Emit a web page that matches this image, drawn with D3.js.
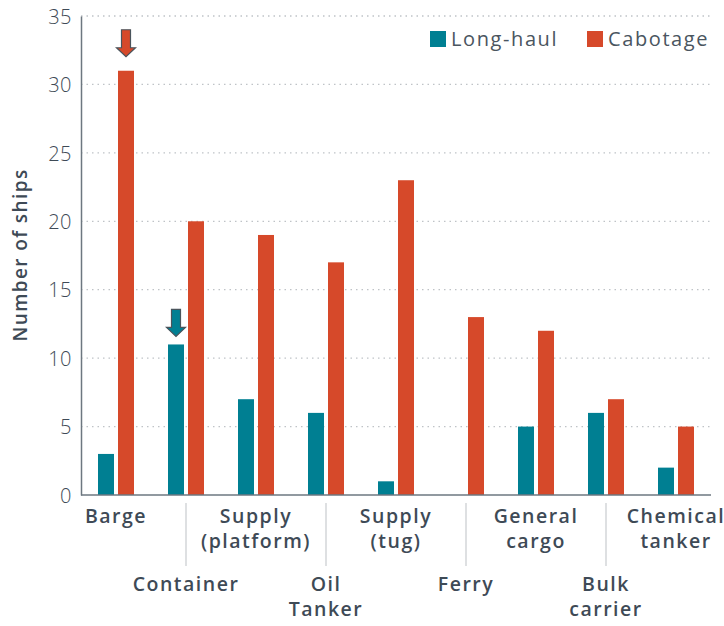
<!DOCTYPE html>
<html><head><meta charset="utf-8">
<script src="https://cdn.jsdelivr.net/npm/d3@7"></script>
<style>body{margin:0;background:#fff;}svg{display:block;}</style>
</head><body>
<svg id="c" width="724" height="626"></svg>
<script>
const categories = ["Barge","Container","Supply (platform)","Oil Tanker","Supply (tug)","Ferry","General cargo","Bulk carrier","Chemical tanker"];
const labelLines = [["Barge"],["Container"],["Supply","(platform)"],["Oil","Tanker"],["Supply","(tug)"],["Ferry"],["General","cargo"],["Bulk","carrier"],["Chemical","tanker"]];
const seriesNames = ["Long-haul","Cabotage"];
const longHaul = [3,11,7,6,1,0,5,6,2];
const cabotage = [31,20,19,17,23,13,12,7,5];
const yTicks = [0,5,10,15,20,25,30,35];
const highlights = [{cat:"Barge", series:"Cabotage"},{cat:"Container", series:"Long-haul"}];
const colors = {"Long-haul":"#007f92","Cabotage":"#d6492a"};

(function(){
const svg = d3.select("#c");
const mL = 81, mR = 711, mT = 16, mB = 495;
const x = d3.scaleBand().domain(categories).range([mL,mR]);
const y = d3.scaleLinear().domain([0,35]).range([mB,mT]);
const textCol = "#3e4a56";
const font = "'Open Sans', sans-serif";

// gridlines
svg.append("g").selectAll("line").data(yTicks.filter(d=>d>0)).join("line")
  .attr("x1",mL).attr("x2",mR).attr("y1",d=>y(d)).attr("y2",d=>y(d))
  .attr("stroke","#bfc3c7").attr("stroke-width",1.3).attr("stroke-dasharray","1.5,4");

// y axis
const yAxis = d3.axisLeft(y).tickValues(yTicks).tickSize(0).tickPadding(9);
const ga = svg.append("g").attr("transform",`translate(${mL},0)`).call(yAxis);
ga.select(".domain").attr("stroke","#6d7780").attr("stroke-width",1.5);
ga.selectAll("text").attr("font-family",font).attr("font-weight",300).attr("font-size",20)
  .attr("fill",textCol).attr("dy","0.36em").attr("letter-spacing","0.5");

// bars
const data = [];
categories.forEach((c,i)=>{data.push({cat:c,series:"Long-haul",v:longHaul[i]});data.push({cat:c,series:"Cabotage",v:cabotage[i]});});
const bw = 16;
const bx = d => x(d.cat) + x.bandwidth()/2 + (d.series==="Long-haul" ? -18 : 2);
svg.append("g").selectAll("rect").data(data.filter(d=>d.v>0)).join("rect")
  .attr("x",bx).attr("width",bw).attr("y",d=>y(d.v)).attr("height",d=>y(0)-y(d.v))
  .attr("fill",d=>colors[d.series]);

// x axis baseline
svg.append("line").attr("x1",mL).attr("x2",mR).attr("y1",y(0)).attr("y2",y(0))
  .attr("stroke","#6d7780").attr("stroke-width",1.5);

// arrows
highlights.forEach(h=>{
  const i = categories.indexOf(h.cat);
  const v = h.series==="Long-haul" ? longHaul[i] : cabotage[i];
  const cx = bx({cat:h.cat,series:h.series}) + bw/2;
  const tip = y(v) - (h.series==="Cabotage" ? 14 : 8);
  const p = [[cx-4.5,tip-27],[cx+4.5,tip-27],[cx+4.5,tip-9],[cx+9.5,tip-9],[cx,tip],[cx-9.5,tip-9],[cx-4.5,tip-9]];
  svg.append("path").attr("d",d3.line()(p)+"Z").attr("fill",colors[h.series])
    .attr("stroke","#4a545c").attr("stroke-width",1.2).attr("stroke-linejoin","miter");
});

// category labels
const lab = svg.append("g").attr("font-family",font).attr("font-weight",600).attr("font-size",19.5)
  .attr("fill",textCol).attr("text-anchor","middle").attr("letter-spacing","1.5");
categories.forEach((c,i)=>{
  const cx = x(c)+x.bandwidth()/2;
  const base = i%2===0 ? 523 : 591;
  const t = lab.append("text").attr("x",cx).attr("y",base);
  labelLines[i].forEach((ln,j)=>{
    t.append("tspan").attr("x",cx).attr("y",base+j*25).text(ln);
  });
  if(i%2===1){
    svg.append("line").attr("x1",cx).attr("x2",cx).attr("y1",503).attr("y2",566)
      .attr("stroke","#d3d6d8").attr("stroke-width",1.5);
  }
});

// y title
svg.append("text").attr("transform","translate(27,255) rotate(-90)").attr("text-anchor","middle")
  .attr("font-family",font).attr("font-weight",600).attr("font-size",19).attr("fill",textCol)
  .attr("letter-spacing","1.4").text("Number of ships");

// legend
const leg = [{name:"Long-haul",x:430},{name:"Cabotage",x:587}];
leg.forEach(l=>{
  svg.append("rect").attr("x",l.x).attr("y",31).attr("width",16).attr("height",16).attr("fill",colors[l.name]);
  svg.append("text").attr("x",l.x+21).attr("y",46).attr("font-family",font).attr("font-size",20)
    .attr("fill","#4a5560").attr("letter-spacing","1.6").text(l.name);
});
})();
</script>
</body></html>
